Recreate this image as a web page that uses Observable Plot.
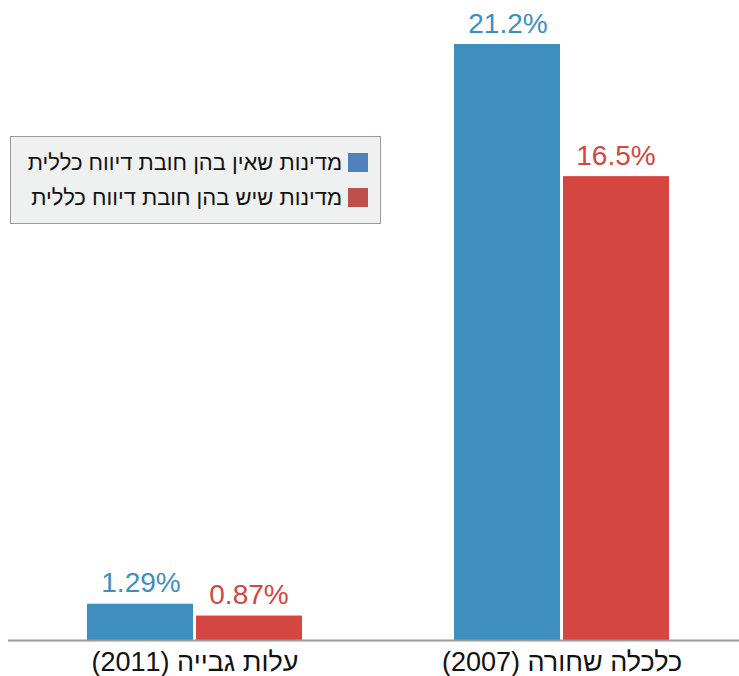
<!DOCTYPE html>
<html>
<head>
<meta charset="utf-8">
<script src="https://cdn.jsdelivr.net/npm/d3@7"></script>
<script src="https://cdn.jsdelivr.net/npm/@observablehq/plot@0.6"></script>
<style>
  html, body { margin: 0; padding: 0; background: #fff; }
  #wrap { position: relative; width: 739px; height: 676px; font-family: "Liberation Sans", Arial, sans-serif; }
  #wrap svg text { direction: rtl; }
  #legend {
    position: absolute; left: 10px; top: 136px; width: 369px; height: 86px;
    background: #eff0f0; border: 1px solid #9a9a9a;
    direction: rtl; box-sizing: content-box;
    display: flex; flex-direction: column; justify-content: center; gap: 11px;
  }
  .row { display: flex; align-items: center; padding-right: 12px; }
  .sw { width: 20px; height: 19px; margin-left: 6px; flex: none; }
  .lbl { font-size: 22px; color: #111; white-space: nowrap; line-height: 24px; }
</style>
</head>
<body>
<div id="wrap"></div>
<script>
// ---- data ----
const groups = ["עלות גבייה (2011)", "כלכלה שחורה (2007)"];
const series = ["מדינות שאין בהן חובת דיווח כללית", "מדינות שיש בהן חובת דיווח כללית"];
const noReportValues = [1.29, 21.2];
const withReportValues = [0.87, 16.5];
const barColors = ["#3e8ec0", "#d54641"];
const legendColors = ["#4f81bd", "#c0504d"];

const rows = [];
groups.forEach((g, i) => {
  rows.push({group: g, series: series[0], value: noReportValues[i]});
  rows.push({group: g, series: series[1], value: withReportValues[i]});
});
const s0 = rows.filter(d => d.series === series[0]);
const s1 = rows.filter(d => d.series === series[1]);

const chart = Plot.plot({
  width: 739,
  height: 676,
  marginTop: 44,
  marginBottom: 36,
  marginLeft: 8,
  marginRight: 0,
  style: {fontFamily: "'Liberation Sans', Arial, sans-serif", fontSize: "27px", color: "#111", background: "#fff"},
  x: {domain: groups, range: [86, 670], paddingInner: 0.413, paddingOuter: 0, tickSize: 0, tickPadding: 11, label: null},
  y: {domain: [0, 21.2], axis: null},
  marks: [
    Plot.barY(s0, {x: "group", y: "value", fill: barColors[0], insetRight: 109}),
    Plot.barY(s1, {x: "group", y: "value", fill: barColors[1], insetLeft: 109}),
    Plot.text(s0, {x: "group", y: "value", text: d => d.value + "%", fill: barColors[0], dx: -54, dy: -12, lineAnchor: "bottom", fontSize: 28}),
    Plot.text(s1, {x: "group", y: "value", text: d => d.value + "%", fill: barColors[1], dx: 54, dy: -12, lineAnchor: "bottom", fontSize: 28}),
    Plot.ruleY([0], {stroke: "#999", strokeWidth: 2})
  ]
});

const wrap = document.getElementById("wrap");
wrap.appendChild(chart);

const legend = document.createElement("div");
legend.id = "legend";
series.forEach((s, i) => {
  const row = document.createElement("div");
  row.className = "row";
  const sw = document.createElement("span");
  sw.className = "sw";
  sw.style.background = legendColors[i];
  const lbl = document.createElement("span");
  lbl.className = "lbl";
  lbl.textContent = s;
  row.appendChild(sw);
  row.appendChild(lbl);
  legend.appendChild(row);
});
wrap.appendChild(legend);
</script>
</body>
</html>
